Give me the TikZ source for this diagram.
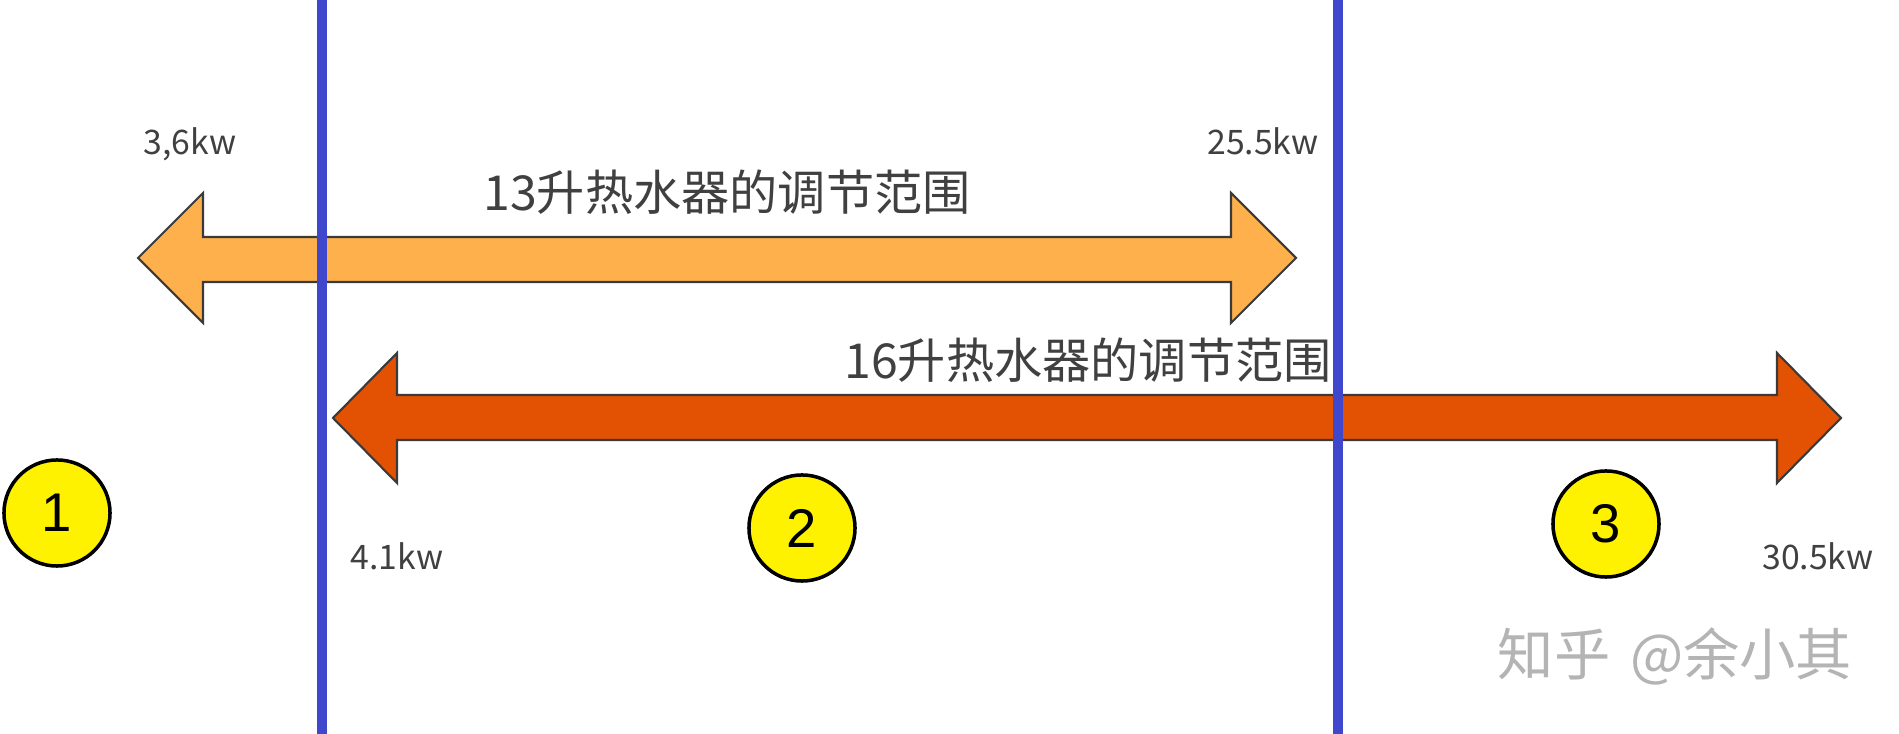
\documentclass[tikz,border=0pt]{standalone}
\usepackage{fontspec}
\usepackage{xcolor}
\setmainfont{Noto Sans CJK SC}
\newfontfamily\numfont{Liberation Sans}
\usetikzlibrary{positioning}
\definecolor{Paper}{HTML}{FFFFFF}
\definecolor{Ink}{HTML}{404040}
\definecolor{Edge}{HTML}{3A3A3A}
\definecolor{RangeLow}{HTML}{FDB04C}
\definecolor{RangeHigh}{HTML}{E35203}
\definecolor{Split}{HTML}{3F48CC}
\definecolor{Marker}{HTML}{FFF200}
\definecolor{Mark}{HTML}{B4B4B4}
\begin{document}
\begin{tikzpicture}[x=0.01cm,y=-0.01cm,text=Ink,
title/.style={font=\fontsize{13.7}{16}\selectfont,inner sep=0pt},
kw/.style={font=\fontsize{9.6}{11}\selectfont,inner sep=0pt,anchor=base},
band/.style={draw=Edge,line width=0.6pt,line join=miter},
split/.style={draw=Split,line width=2.9pt},
zone/.style={circle,draw=black,fill=Marker,line width=1pt,minimum size=1.06cm,inner sep=0pt,font=\numfont\fontsize{15.5}{18}\selectfont,text=black}]
\useasboundingbox (0,0) rectangle (1899,734);
\fill[Paper] (0,0) rectangle (1899,734);
% 13 litre range
\filldraw[band,fill=RangeLow] (138,258) -- (203,193) -- (203,237) -- (1231,237) -- (1231,193) -- (1296,258) -- (1231,323) -- (1231,282) -- (203,282) -- (203,323) -- cycle;
% 16 litre range
\filldraw[band,fill=RangeHigh] (333,418) -- (397,353) -- (397,395) -- (1777,395) -- (1777,353) -- (1841,418) -- (1777,483) -- (1777,440) -- (397,440) -- (397,483) -- cycle;
\node[title] (t13) at (727,192){13升热水器的调节范围};
\node[title] (t16) at (1088,360){16升热水器的调节范围};
% boundaries
\draw[split] (322,0) -- (322,734);
\draw[split] (1338,0) -- (1338,734);
\node[kw] (k36) at (190,155){3,6kw};
\node[kw] (k255) at (1263,155){25.5kw};
\node[kw] (k41) at (397,570){4.1kw};
\node[kw] (k305) at (1818,570){30.5kw};
\foreach \n/\x/\y in {1/57/513,2/802/528,3/1606/524}{
\node[zone] (z\n) at (\x,\y){\n};
}
\node[font=\fontsize{16}{19}\selectfont,text=Mark,inner sep=0pt] (wm) at (1675,656){知乎\hspace{0.35em}@余小其};
\end{tikzpicture}
\end{document}
